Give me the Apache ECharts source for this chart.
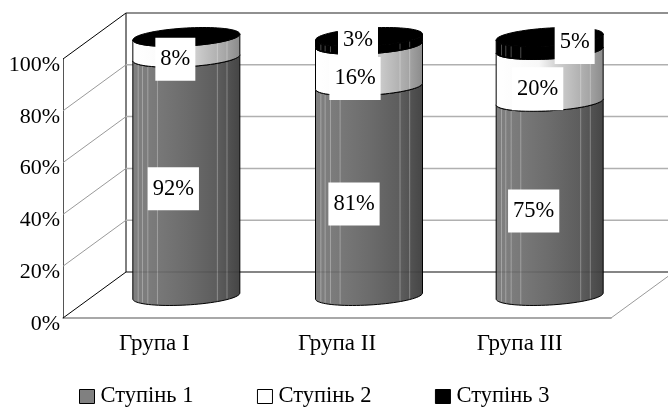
<!DOCTYPE html>
<html>
<head>
<meta charset="utf-8">
<style>html,body{margin:0;padding:0;background:#fff}#chart{width:668px;height:407px}</style>
<script src="https://cdn.jsdelivr.net/npm/echarts@6/dist/echarts.min.js"></script>
</head>
<body>
<div id="chart"></div>
<script>
// Share of each degree per group, percent
const groups = ['Група I', 'Група II', 'Група III'];
const degrees = ['Ступінь 1', 'Ступінь 2', 'Ступінь 3'];
const degree1 = [92, 81, 75];
const degree2 = [8, 16, 20];
const degree3 = [0, 3, 5];
const ticks = [0, 20, 40, 60, 80, 100];

// Hand placed label nudges relative to each segment centre, per group then degree
const labelNudge = [
  [[-13, 12], [-11, 12], null],
  [[-15, 13], [-14, 13], [-11, -1]],
  [[-16, 12], [-12, 13], [25, -1]]
];
// Small horizontal correction of each cylinder inside its category band
const cylinderShift = [0, 0, -2];

const FONT = '"Liberation Serif", "Times New Roman", serif';
const FONT_SIZE = 22.5;
const DEPTH = { x: 63, y: -46 };
const CYL = { dx: 32, dy: -22, rx: 53.5, ry: 9, tilt: 3 };
const stripes = [0.12, 0.21, 0.77, 0.86, 0.91, 0.95];

// Point on the tilted ellipse that forms a cylinder cross-section
function rim(cx, cy, t) {
  return [cx + CYL.rx * Math.cos(t), cy + CYL.ry * Math.sin(t) - CYL.tilt * Math.cos(t)];
}
function frontArc(cx, cy, reverse) {
  const pts = [];
  for (let i = 0; i <= 40; i++) {
    const k = reverse ? 40 - i : i;
    pts.push(rim(cx, cy, Math.PI * k / 40));
  }
  return pts;
}
function gradient(stops) {
  return new echarts.graphic.LinearGradient(0, 0, 1, 0,
    stops.map(s => ({ offset: s[0], color: s[1] })));
}
const sideFill = [
  () => gradient([[0, '#808080'], [0.15, '#7c7c7c'], [0.5, '#6c6c6c'], [0.8, '#5c5c5c'], [1, '#454545']]),
  () => gradient([[0, '#ffffff'], [0.4, '#f8f8f8'], [0.55, '#d4d4d4'], [0.65, '#c4c4c4'], [0.85, '#a8a8a8'], [1, '#8a8a8a']]),
  () => '#000000'
];
const stripeColor = 'rgba(255,255,255,0.3)';

// One stacked cylinder segment between two values on the y axis
function segmentRenderer(level) {
  return function (params, api) {
    const cat = api.value(0), from = api.value(1), to = api.value(2);
    if (to <= from) return { type: 'group', children: [] };
    const p0 = api.coord([cat, from]), p1 = api.coord([cat, to]);
    const cx = p0[0] + CYL.dx + cylinderShift[cat], y0 = p0[1] + CYL.dy, y1 = p1[1] + CYL.dy;
    const children = [{
      type: 'polygon',
      shape: { points: frontArc(cx, y0, false).concat(frontArc(cx, y1, true)) },
      style: { fill: sideFill[level](), stroke: '#000', lineWidth: 1 }
    }];
    stripes.forEach(f => {
      const t = Math.acos(1 - 2 * f);
      const a = rim(cx, y0, t), b = rim(cx, y1, t);
      children.push({
        type: 'line',
        shape: { x1: a[0], y1: a[1] - 1, x2: b[0], y2: b[1] + 1 },
        style: { stroke: stripeColor, lineWidth: 1 }
      });
    });
    if (to === 100) {
      const pts = [];
      for (let i = 0; i < 80; i++) pts.push(rim(cx, y1, 2 * Math.PI * i / 80));
      children.push({
        type: 'polygon',
        shape: { points: pts },
        style: { fill: '#000', stroke: '#000', lineWidth: 1 }
      });
    }
    return { type: 'group', children };
  };
}

// Back wall, side wall and floor of the box, hung on the value axis
function wallRenderer(params, api) {
  const v = api.value(0);
  const box = params.coordSys;
  const y = api.coord([0, v])[1];
  const x0 = box.x, x1 = box.x + DEPTH.x, xEnd = box.x + box.width + DEPTH.x;
  const yb = y + DEPTH.y;
  const edge = v === 0 || v === 100;
  const children = [
    { type: 'line', shape: { x1: x0, y1: y, x2: x1, y2: yb },
      style: { stroke: edge ? '#000' : '#9a9a9a', lineWidth: 1 } },
    { type: 'line', shape: { x1: x1, y1: yb, x2: xEnd, y2: yb },
      style: { stroke: edge ? '#222' : '#b0b0b0', lineWidth: edge ? 1.2 : 1.5 } }
  ];
  if (v === 0) {
    children.push(
      { type: 'line', shape: { x1: x1, y1: yb, x2: x1, y2: api.coord([0, 100])[1] + DEPTH.y },
        style: { stroke: '#000', lineWidth: 1 } },
      { type: 'line', shape: { x1: box.x + box.width, y1: y, x2: xEnd, y2: yb },
        style: { stroke: '#9a9a9a', lineWidth: 1 } }
    );
  }
  return { type: 'group', children };
}

// Faint trace of the floor's back edge across the cylinders
function floorTraceRenderer(params, api) {
  const box = params.coordSys;
  const y = api.coord([0, api.value(0)])[1] + DEPTH.y;
  return {
    type: 'line',
    shape: { x1: box.x + DEPTH.x, y1: y, x2: box.x + box.width + DEPTH.x, y2: y },
    style: { stroke: 'rgba(0,0,0,0.15)', lineWidth: 1 }
  };
}

// Percent labels on white plates, drawn above every cylinder
function labelRenderer(params, api) {
  const cat = api.value(0), lvl = api.value(1), from = api.value(2), to = api.value(3);
  const nudge = labelNudge[cat][lvl];
  if (!nudge) return { type: 'group', children: [] };
  const p = api.coord([cat, (from + to) / 2]);
  return {
    type: 'text',
    x: p[0] + CYL.dx + cylinderShift[cat] + nudge[0],
    y: p[1] + CYL.dy + nudge[1],
    style: {
      text: (to - from) + '%',
      align: 'center', verticalAlign: 'middle',
      font: FONT_SIZE + 'px ' + FONT, fill: '#000',
      backgroundColor: '#fff', padding: [10, 5, 10, 5]
    }
  };
}

const levels = [degree1, degree2, degree3];
function stackData(level) {
  return groups.map((g, i) => {
    let from = 0;
    for (let k = 0; k < level; k++) from += levels[k][i];
    return [i, from, from + levels[level][i]];
  });
}
const labelData = [];
levels.forEach((vals, l) => stackData(l).forEach(d => labelData.push([d[0], l, d[1], d[2]])));

const legendColors = ['#808080', '#ffffff', '#000000'];
const chart = echarts.init(document.getElementById('chart'), null, { renderer: 'canvas' });
chart.setOption({
  backgroundColor: '#fff',
  animation: false,
  textStyle: { fontFamily: FONT },
  grid: { left: 63, right: 57, top: 59, bottom: 89, containLabel: false },
  legend: {
    left: 79, top: 385, padding: 0, itemWidth: 15, itemHeight: 14, itemGap: 63.5,
    icon: 'rect',
    textStyle: { fontFamily: FONT, fontSize: FONT_SIZE, color: '#000', padding: [4, 0, 0, 1] },
    data: degrees.map((name, i) => ({
      name,
      itemStyle: { color: legendColors[i], borderColor: '#000', borderWidth: 1 }
    }))
  },
  xAxis: {
    type: 'category',
    data: groups,
    axisTick: { show: false },
    axisLine: { lineStyle: { color: '#8c8c8c', width: 1.5 } },
    axisLabel: { fontFamily: FONT, fontSize: 23, color: '#000', margin: 14 }
  },
  yAxis: {
    type: 'value', min: 0, max: 100, interval: 20,
    splitLine: { show: false },
    axisTick: { show: false },
    axisLine: { show: true, lineStyle: { color: '#555', width: 1 } },
    axisLabel: {
      fontFamily: FONT, fontSize: 22, color: '#000', margin: 3,
      formatter: '{value}%', lineHeight: 12, verticalAlign: 'top'
    }
  },
  series: [
    {
      type: 'custom', name: 'walls', coordinateSystem: 'cartesian2d', clip: false, silent: true, z: 1,
      data: ticks.map(t => [t]), encode: { x: -1, y: 0 }, renderItem: wallRenderer
    }
  ].concat(degrees.map((name, l) => ({
    type: 'custom', name, coordinateSystem: 'cartesian2d', clip: false, silent: true, z: 3,
    itemStyle: { color: legendColors[l] },
    data: stackData(l), encode: { x: 0, y: [1, 2] }, renderItem: segmentRenderer(l)
  }))).concat([
    {
      type: 'custom', name: 'floorTrace', coordinateSystem: 'cartesian2d', clip: false, silent: true, z: 4,
      data: [[ticks[0]]], encode: { x: -1, y: 0 }, renderItem: floorTraceRenderer
    },
    {
      type: 'custom', name: 'labels', coordinateSystem: 'cartesian2d', clip: false, silent: true, z: 5,
      data: labelData, encode: { x: 0, y: [2, 3] }, renderItem: labelRenderer
    }
  ])
});
</script>
</body>
</html>
